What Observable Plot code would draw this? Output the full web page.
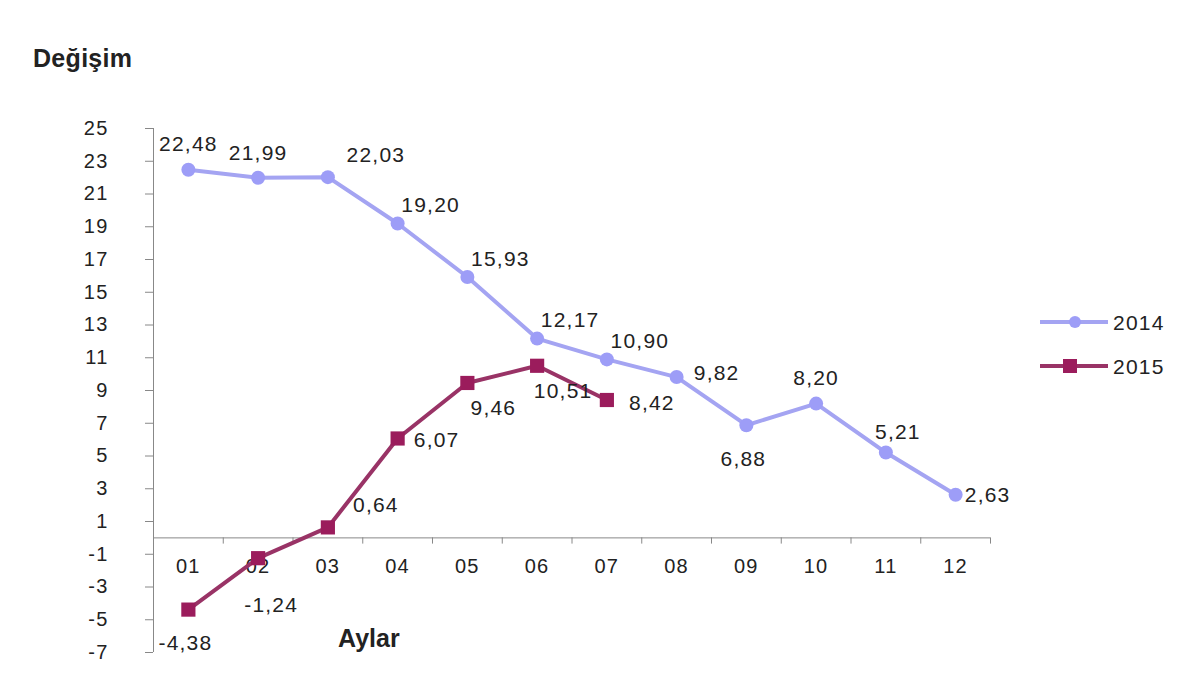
<!DOCTYPE html>
<html>
<head>
<meta charset="utf-8">
<script src="https://cdn.jsdelivr.net/npm/d3@7"></script>
<script src="https://cdn.jsdelivr.net/npm/@observablehq/plot@0.6"></script>
<style>
  html, body { margin: 0; padding: 0; background: #fff; }
  #wrap { position: relative; width: 1200px; height: 675px; overflow: hidden; font-family: "Liberation Sans", Arial, sans-serif; color: #222; }
  #chart { position: absolute; left: 0; top: 0; }
  #overlay { position: absolute; left: 0; top: 0; pointer-events: none; }
</style>
</head>
<body>
<div id="wrap">
  <div id="chart"></div>
  <svg id="overlay" width="1200" height="675"></svg>
</div>
<script>
// ---- data ----
const months = ["01","02","03","04","05","06","07","08","09","10","11","12"];
const values2014 = [22.48, 21.99, 22.03, 19.20, 15.93, 12.17, 10.90, 9.82, 6.88, 8.20, 5.21, 2.63];
const values2015 = [-4.38, -1.24, 0.64, 6.07, 9.46, 10.51, 8.42];
const yTicks = [-7, -5, -3, -1, 1, 3, 5, 7, 9, 11, 13, 15, 17, 19, 21, 23, 25];
const seriesNames = ["2014", "2015"];
const titleText = "Değişim";
const xTitleText = "Aylar";
// label placement codes (n = above, ne = above right, e = right, s = below, se = below right)
const place2014 = ["n","n","ne2","ne","ne","ne","ne","e2","s","n","ne3","e"];
const place2015 = ["s","s2","ne2","e4","se","se","e3"];

// ---- style lookup ----
const nudge = {
  n:  [0, -25],
  ne: [33, -18],
  ne2:[48, -22],
  ne3:[12, -20],
  e:  [32, 0],
  e2: [40, -4],
  e3: [45, 3],
  e4: [39, 2],
  s:  [-3, 34],
  s2: [13, 47],
  se: [26, 25]
};
const c2014 = "#a4a4f2", c2014dot = "#9d9df7";
const c2015 = "#993366", c2015dot = "#9b1c5c";
const fontFam = "'Liberation Sans', Arial, sans-serif";
const fmt = v => v.toFixed(2).replace(".", ",");

const rows2014 = values2014.map((v, i) => ({m: i + 1, v, code: place2014[i]}));
const rows2015 = values2015.map((v, i) => ({m: i + 1, v, code: place2015[i]}));
const monthRows = months.map((label, i) => ({m: i + 1, label}));
const bounds = d3.range(0, months.length + 1).map(i => i + 0.5);

function labelMarks(rows) {
  return Object.keys(nudge).map(code =>
    Plot.text(rows.filter(d => d.code === code), {
      x: "m", y: "v", text: d => fmt(d.v),
      dx: nudge[code][0], dy: nudge[code][1],
      fontSize: 21, fill: "#222"
    })
  );
}

const chart = Plot.plot({
  width: 1200,
  height: 675,
  marginLeft: 153,
  marginRight: 210,
  marginTop: 128,
  marginBottom: 23,
  style: {fontFamily: fontFam, fontSize: "20px", color: "#222", background: "transparent", letterSpacing: "1.2px"},
  x: {domain: [0.5, months.length + 0.5], axis: null},
  y: {domain: [-7, 25], axis: null},
  marks: [
    Plot.axisY(yTicks, {anchor: "left", tickSize: 8, tickPadding: 37, stroke: "#888", fill: "#222", fontSize: 20, label: null, tickFormat: d => String(d)}),
    Plot.ruleX([0.5], {y1: -7, y2: 25, stroke: "#888"}),
    Plot.ruleY([0], {x1: 0.5, x2: months.length + 0.5, stroke: "#888"}),
    Plot.ruleX(bounds, {x: d => d, y1: 0, y2: -0.38, stroke: "#888"}),
    Plot.text(monthRows, {x: "m", y: () => 0, text: "label", dy: 29, fontSize: 20, fill: "#222"}),
    Plot.line(rows2014, {x: "m", y: "v", stroke: c2014, strokeWidth: 4}),
    Plot.dot(rows2014, {x: "m", y: "v", r: 7, fill: c2014dot, stroke: "none"}),
    Plot.line(rows2015, {x: "m", y: "v", stroke: c2015, strokeWidth: 4}),
    Plot.dot(rows2015, {x: "m", y: "v", symbol: "square", r: 8, fill: c2015dot, stroke: "none"}),
    ...labelMarks(rows2014),
    ...labelMarks(rows2015)
  ]
});
document.getElementById("chart").appendChild(chart);

// ---- titles and legend ----
const ov = d3.select("#overlay");
ov.append("text").attr("x", 33).attr("y", 67).attr("font-family", fontFam).attr("font-weight", "bold")
  .attr("font-size", 25).attr("letter-spacing", "0.3px").attr("fill", "#222").text(titleText);
ov.append("text").attr("x", 338).attr("y", 647).attr("font-family", fontFam).attr("font-weight", "bold")
  .attr("font-size", 25).attr("fill", "#222").text(xTitleText);

const legendItems = [
  {name: seriesNames[0], color: c2014, dot: c2014dot, symbol: "circle"},
  {name: seriesNames[1], color: c2015, dot: c2015dot, symbol: "square"}
];
legendItems.forEach((it, i) => {
  const y = 322 + i * 44;
  ov.append("line").attr("x1", 1040).attr("x2", 1108).attr("y1", y).attr("y2", y)
    .attr("stroke", it.color).attr("stroke-width", 4);
  if (it.symbol === "circle") {
    ov.append("circle").attr("cx", 1075).attr("cy", y).attr("r", 6).attr("fill", it.dot);
  } else {
    ov.append("rect").attr("x", 1063).attr("y", y - 7).attr("width", 14).attr("height", 14).attr("fill", it.dot);
  }
  ov.append("text").attr("x", 1113).attr("y", y).attr("dy", "0.36em")
    .attr("font-family", fontFam).attr("font-size", 21).attr("letter-spacing", "1.2px").attr("fill", "#222")
    .text(it.name);
});
</script>
</body>
</html>
